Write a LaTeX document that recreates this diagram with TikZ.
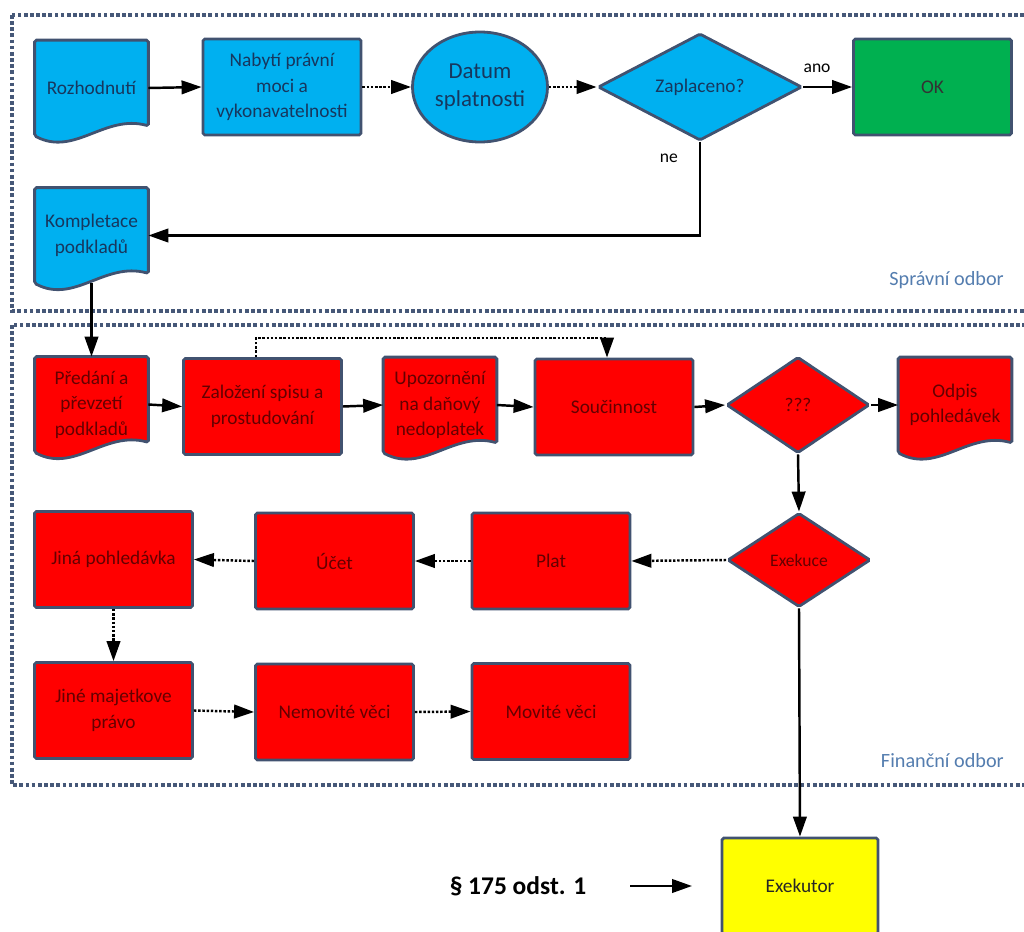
\documentclass[tikz,border=0pt]{standalone}
\usepackage{fontspec}
\setmainfont{Carlito}
\usetikzlibrary{positioning}
\usetikzlibrary{shapes.geometric}
\usetikzlibrary{arrows.meta}
\usetikzlibrary{calc}
\usetikzlibrary{backgrounds}

\definecolor{blueF}{RGB}{0,176,240}
\definecolor{blueT}{RGB}{23,55,94}
\definecolor{redF}{RGB}{255,0,0}
\definecolor{redT}{RGB}{100,0,0}
\definecolor{greenF}{RGB}{0,176,80}
\definecolor{yellowF}{RGB}{255,255,0}
\definecolor{edgeC}{RGB}{65,82,112}
\definecolor{frameC}{RGB}{70,88,120}
\definecolor{deptC}{RGB}{84,125,175}

\newcommand{\txt}{\fontsize{11}{14.5}\selectfont}

\tikzset{
	nodeline/.style={draw=edgeC, line width=1.6pt, rounded corners=1pt},
	box/.style={nodeline, rectangle, minimum width=31.6mm, minimum height=19.2mm, inner sep=1pt, align=center, font=\txt},
	bluebox/.style={box, fill=blueF, text=blueT},
	redbox/.style={box, fill=redF, text=redT},
	docnode/.style={rectangle, minimum width=22.6mm, minimum height=19mm, inner sep=1pt, align=center, font=\txt},
	decision/.style={nodeline, diamond, inner sep=0pt, align=center, font=\txt},
	flow/.style={-{Triangle[length=4mm,width=2.7mm]}, line width=1.4pt},
	dotflow/.style={flow, dash pattern=on 1.4pt off 1pt},
	frame/.style={draw=frameC, line width=2.1pt, dash pattern=on 2.1pt off 1.4pt},
	dept/.style={text=deptC, font=\fontsize{11.5}{14}\selectfont}
}

% document outline behind a docnode
\newcommand{\docshape}[2]{%
	\draw[nodeline, fill=#2] (#1.north west) -- (#1.north east) -- ($(#1.south east)+(0,-10)$)
		.. controls ($(#1.south west)+(70,-22)$) and ($(#1.south west)+(40,21)$) .. (#1.south west) -- cycle;}

\begin{document}
\begin{tikzpicture}[x=0.2mm, y=-0.2mm]
	\useasboundingbox (0,0) rectangle (1024,932);
	\clip (0,0) rectangle (1024,932);

	%Frames
	\draw[frame] (12,15) rectangle (1040,311);
	\draw[frame] (12,325) rectangle (1040,785);
	\node[dept, anchor=east] (spravni) at (1010,280) {Správní odbor};
	\node[dept, anchor=east] (financni) at (1010,761) {Finanční odbor};

	%Spravni odbor
	\node[docnode, text=blueT] (rozh) at (91.5,88) {Rozhodnutí};
	\node[bluebox] (nabyti) at (282,87) {Nabytí právní\\moci a\\vykonavatelnosti};
	\node[nodeline, ellipse, fill=blueF, text=blueT, minimum width=27mm, minimum height=22mm, inner sep=0pt, align=center, font=\fontsize{13}{16}\selectfont] (datum) at (480,87) {Datum\\splatnosti};
	\node[decision, fill=blueF, text=blueT, minimum width=40.8mm, minimum height=21.4mm] (zapl) at (700,87) {Zaplaceno?};
	\node[box, fill=greenF, text=black!80] (ok) at (932.5,87) {OK};
	\node[docnode, text=blueT] (komp) at (91.5,235.5) {Kompletace\\podkladů};

	%Financni odbor
	\node[docnode, text=redT] (preda) at (91.5,404.5) {Předání a\\převzetí\\podkladů};
	\node[redbox] (zalo) at (262.5,406.5) {Založení spisu a\\prostudování};
	\node[docnode, text=redT] (upoz) at (440,405) {Upozornění\\na daňový\\nedoplatek};
	\node[redbox] (souc) at (614,407) {Součinnost};
	\node[decision, fill=redF, text=redT, minimum width=28.6mm, minimum height=19.2mm] (neco) at (798,405) {???};
	\node[docnode, text=redT] (odpis) at (955,405) {Odpis\\pohledávek};

	\node[redbox] (jina) at (113.5,559.5) {Jiná pohledávka};
	\node[redbox] (ucet) at (334.5,561) {Účet};
	\node[redbox] (plat) at (551,561) {Plat};
	\node[decision, fill=redF, text=redT, minimum width=28.6mm, minimum height=18.8mm, font=\fontsize{10}{12}\selectfont] (exek) at (799,560) {Exekuce};

	\node[redbox] (majet) at (113.5,710.5) {Jiné majetkove\\právo};
	\node[redbox] (nemov) at (334.5,712) {Nemovité věci};
	\node[redbox] (movit) at (551,711.5) {Movité věci};

	%Exekutor
	\node[box, fill=yellowF, text=black!85, minimum width=31.2mm] (exekutor) at (800,886) {Exekutor};
	\node[font=\fontsize{14.5}{17}\selectfont\bfseries] (par) at (518,886) {§ 175 odst. 1};
	\coordinate (parA) at (630,886);
	\coordinate (parB) at (692,886);

	%Document outlines
	\begin{scope}[on background layer]
		\docshape{rozh}{blueF}
		\docshape{komp}{blueF}
		\docshape{preda}{redF}
		\docshape{upoz}{redF}
		\docshape{odpis}{redF}
	\end{scope}

	%Connectors
	\draw[flow] (rozh.east) -- (nabyti.west);
	\draw[dotflow] (nabyti.east) -- (datum.west);
	\draw[dotflow] (datum.east) -- (zapl.west);
	\draw[flow] (zapl.east) -- (ok.west) node[pos=0.28, above=1.5mm] {ano};
	\draw[flow] (zapl.south) |- (komp.east) node[pos=0.09, left=3mm] {ne};
	\draw[flow] (komp.south) -- (preda.north);

	\draw[flow] (preda.east) -- (zalo.west);
	\draw[flow] (zalo.east) -- (upoz.west);
	\draw[flow] (upoz.east) -- (souc.west);
	\draw[flow] (souc.east) -- (neco.west);
	\draw[flow] (neco.east) -- (odpis.west);
	\draw[dotflow] ([xshift=-1.3mm]zalo.north) -- ++(0,-19) -| ([xshift=-1.4mm]souc.north);
	\draw[flow] (neco.south) -- (exek.north);

	\draw[dotflow] (exek.west) -- (plat.east);
	\draw[dotflow] (plat.west) -- (ucet.east);
	\draw[dotflow] (ucet.west) -- (jina.east);
	\draw[dotflow] (jina.south) -- (majet.north);
	\draw[dotflow] (majet.east) -- (nemov.west);
	\draw[dotflow] (nemov.east) -- (movit.west);

	\draw[flow] (exek.south) -- (exekutor.north);
	\draw[flow] (parA) -- (parB);

\end{tikzpicture}
\end{document}
